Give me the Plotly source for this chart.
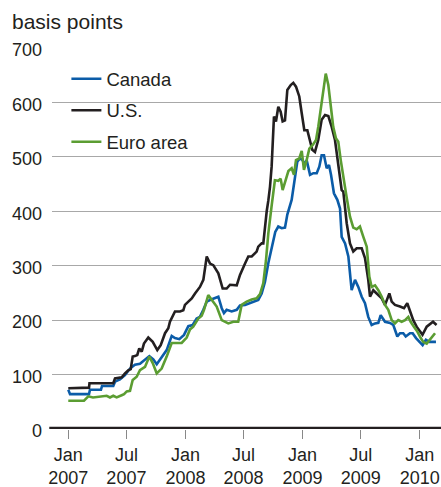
import plotly.graph_objects as go

# Decimal-year time positions and values (basis points)
us_t = [2007.000, 2007.177, 2007.181, 2007.384, 2007.399, 2007.456, 2007.484, 2007.512, 2007.533, 2007.550,
        2007.569, 2007.589, 2007.606, 2007.627, 2007.646, 2007.683, 2007.721, 2007.760, 2007.789, 2007.826,
        2007.854, 2007.868, 2007.911, 2007.954, 2007.982, 2007.996, 2008.025, 2008.054, 2008.082, 2008.110,
        2008.124, 2008.153, 2008.182, 2008.210, 2008.238, 2008.281, 2008.318, 2008.352, 2008.381, 2008.438,
        2008.466, 2008.509, 2008.537, 2008.566, 2008.608, 2008.622, 2008.651, 2008.665, 2008.679, 2008.694,
        2008.708, 2008.722, 2008.736, 2008.756, 2008.773, 2008.793, 2008.813, 2008.830, 2008.850, 2008.870,
        2008.899, 2008.921, 2008.944, 2008.972, 2008.993, 2009.015, 2009.041, 2009.064, 2009.083, 2009.106,
        2009.134, 2009.163, 2009.192, 2009.220, 2009.249, 2009.277, 2009.305, 2009.334, 2009.348, 2009.377,
        2009.405, 2009.433, 2009.462, 2009.505, 2009.533, 2009.561, 2009.576, 2009.604, 2009.633, 2009.676,
        2009.704, 2009.741, 2009.761, 2009.789, 2009.832, 2009.866, 2009.894, 2009.917, 2009.945, 2009.974,
        2010.002, 2010.024, 2010.060, 2010.103, 2010.114, 2010.144]
us_v = [75, 76, 84, 84, 93, 95, 102, 108, 110, 133,
        134, 136, 148, 142, 157, 168, 160, 145, 154, 176,
        185, 197, 216, 216, 218, 228, 234, 240, 249, 258,
        261, 274, 317, 304, 301, 286, 258, 258, 265, 264,
        283, 304, 317, 317, 326, 335, 341, 341, 372, 400,
        420, 445, 482, 574, 565, 592, 583, 565, 567, 623,
        632, 636, 629, 611, 580, 549, 549, 528, 513, 509,
        531, 568, 577, 575, 555, 531, 482, 439, 436, 378,
        341, 326, 332, 332, 314, 274, 243, 255, 249, 240,
        228, 249, 234, 228, 225, 222, 231, 216, 200, 188,
        179, 173, 188, 195, 197, 191]

ca_t = [2007.000, 2007.015, 2007.177, 2007.185, 2007.279, 2007.288, 2007.384, 2007.399, 2007.441, 2007.484,
        2007.527, 2007.569, 2007.612, 2007.655, 2007.692, 2007.726, 2007.755, 2007.797, 2007.840, 2007.883,
        2007.911, 2007.948, 2007.988, 2008.025, 2008.062, 2008.096, 2008.124, 2008.153, 2008.182, 2008.210,
        2008.252, 2008.281, 2008.310, 2008.329, 2008.352, 2008.395, 2008.438, 2008.466, 2008.509, 2008.552,
        2008.594, 2008.622, 2008.651, 2008.679, 2008.708, 2008.736, 2008.767, 2008.793, 2008.822, 2008.850,
        2008.870, 2008.907, 2008.935, 2008.955, 2008.978, 2009.001, 2009.015, 2009.035, 2009.064, 2009.092,
        2009.121, 2009.143, 2009.163, 2009.183, 2009.206, 2009.226, 2009.243, 2009.268, 2009.297, 2009.320,
        2009.334, 2009.363, 2009.391, 2009.419, 2009.448, 2009.476, 2009.505, 2009.533, 2009.561, 2009.590,
        2009.619, 2009.647, 2009.667, 2009.704, 2009.747, 2009.775, 2009.809, 2009.832, 2009.860, 2009.881,
        2009.917, 2009.940, 2009.969, 2010.002, 2010.025, 2010.053, 2010.082, 2010.139]
ca_v = [72, 64, 64, 72, 72, 79, 79, 87, 91, 99,
        111, 118, 120, 127, 134, 128, 119, 132, 145, 171,
        167, 165, 173, 189, 191, 203, 206, 219, 234, 237,
        240, 243, 222, 213, 219, 216, 219, 227, 228, 231,
        234, 237, 249, 270, 305, 335, 362, 372, 369, 370,
        394, 421, 460, 491, 497, 494, 485, 494, 467, 470,
        470, 482, 503, 503, 479, 485, 467, 433, 421, 405,
        353, 341, 317, 255, 274, 261, 243, 231, 206, 191,
        194, 195, 209, 197, 195, 191, 170, 176, 176, 170,
        176, 176, 167, 160, 154, 164, 160, 160]

eu_t = [2007.000, 2007.134, 2007.171, 2007.211, 2007.328, 2007.356, 2007.384, 2007.413, 2007.456, 2007.476,
        2007.499, 2007.527, 2007.550, 2007.584, 2007.612, 2007.655, 2007.692, 2007.721, 2007.755, 2007.797,
        2007.840, 2007.883, 2007.925, 2007.968, 2008.011, 2008.039, 2008.067, 2008.096, 2008.110, 2008.139,
        2008.159, 2008.195, 2008.224, 2008.267, 2008.310, 2008.366, 2008.409, 2008.451, 2008.480, 2008.523,
        2008.566, 2008.608, 2008.637, 2008.665, 2008.688, 2008.708, 2008.736, 2008.764, 2008.793, 2008.813,
        2008.830, 2008.850, 2008.879, 2008.907, 2008.927, 2008.944, 2008.972, 2008.993, 2009.012, 2009.035,
        2009.058, 2009.087, 2009.115, 2009.134, 2009.155, 2009.177, 2009.198, 2009.220, 2009.240, 2009.262,
        2009.285, 2009.305, 2009.326, 2009.348, 2009.377, 2009.405, 2009.433, 2009.462, 2009.490, 2009.519,
        2009.548, 2009.570, 2009.590, 2009.619, 2009.647, 2009.676, 2009.704, 2009.732, 2009.761, 2009.789,
        2009.817, 2009.846, 2009.875, 2009.903, 2009.923, 2009.951, 2009.980, 2010.009, 2010.031, 2010.060,
        2010.094, 2010.131]
eu_v = [52, 52, 60, 58, 61, 58, 61, 58, 62, 64,
        69, 70, 90, 96, 108, 114, 133, 121, 102, 111,
        133, 158, 158, 158, 168, 183, 188, 200, 203, 208,
        219, 246, 237, 225, 200, 194, 197, 197, 228, 234,
        238, 240, 248, 268, 310, 360, 410, 457, 456, 460,
        439, 455, 474, 479, 467, 494, 497, 511, 476, 494,
        515, 522, 531, 555, 586, 623, 653, 632, 592, 555,
        534, 528, 494, 462, 425, 390, 370, 367, 372, 353,
        335, 280, 261, 264, 255, 243, 228, 219, 200, 194,
        200, 197, 200, 206, 197, 188, 179, 167, 160, 157,
        167, 176]

tick_vals = [2007.0, 2007.496, 2008.0, 2008.496, 2009.0, 2009.496, 2010.0]
tick_text = ["Jan<br>2007", "Jul<br>2007", "Jan<br>2008", "Jul<br>2008",
             "Jan<br>2009", "Jul<br>2009", "Jan<br>2010"]
y_ticks = [0, 100, 200, 300, 400, 500, 600, 700]

series = [
    ("Canada", ca_t, ca_v, "#0b5ca8"),
    ("U.S.", us_t, us_v, "#231f20"),
    ("Euro area", eu_t, eu_v, "#5b9d32"),
]

FONT = "Liberation Sans, Arial, Helvetica, sans-serif"
TXT = "#231f20"

fig = go.Figure()
for name, t, v, c in series:
    fig.add_trace(go.Scatter(x=t, y=v, mode="lines", name=name, legendgroup=name,
                             line=dict(color=c, width=2.6)))

fig.update_layout(
    width=441, height=487,
    margin=dict(l=52, r=0, t=48, b=58),
    paper_bgcolor="white", plot_bgcolor="white",
    font=dict(family=FONT, size=18, color=TXT),
    showlegend=True,
    legend=dict(x=0.037, xanchor="left", y=0.968, yanchor="top",
                bgcolor="rgba(0,0,0,0)", borderwidth=0,
                font=dict(family=FONT, size=18.5, color=TXT),
                tracegroupgap=4.5, itemwidth=30),
    xaxis=dict(range=[2006.861, 2010.182], tickmode="array", tickvals=tick_vals,
               ticktext=tick_text, ticks="outside", ticklen=9, tickwidth=1,
               tickcolor="#888888", showgrid=False, zeroline=False, showline=False,
               tickfont=dict(family=FONT, size=18, color=TXT)),
    yaxis=dict(range=[0, 700], tickmode="array", tickvals=y_ticks,
               showgrid=True, gridcolor="#a8a8a8", gridwidth=1.3,
               zeroline=False, showline=False, ticks="", ticklabelstandoff=9,
               ticklabelshift=2,
               tickfont=dict(family=FONT, size=18, color=TXT)),
    annotations=[dict(text="basis points", xref="paper", yref="paper",
                      x=-0.108, y=1.0696, xanchor="left", yanchor="middle",
                      showarrow=False, font=dict(family=FONT, size=21, color=TXT))],
    shapes=[
        # white box behind the legend hiding the 600 gridline
        dict(type="rect", xref="paper", yref="y", x0=0.016, x1=0.46, y0=585, y1=615,
             fillcolor="white", line=dict(width=0), layer="between"),
        # heavy zero line
        dict(type="line", xref="paper", yref="y", x0=-0.007, x1=1, y0=0, y1=0,
             line=dict(color=TXT, width=4.5), layer="above"),
    ],
)

fig.write_html("out.html", config={"displayModeBar": False},
               post_script="document.body.style.margin='0';")
